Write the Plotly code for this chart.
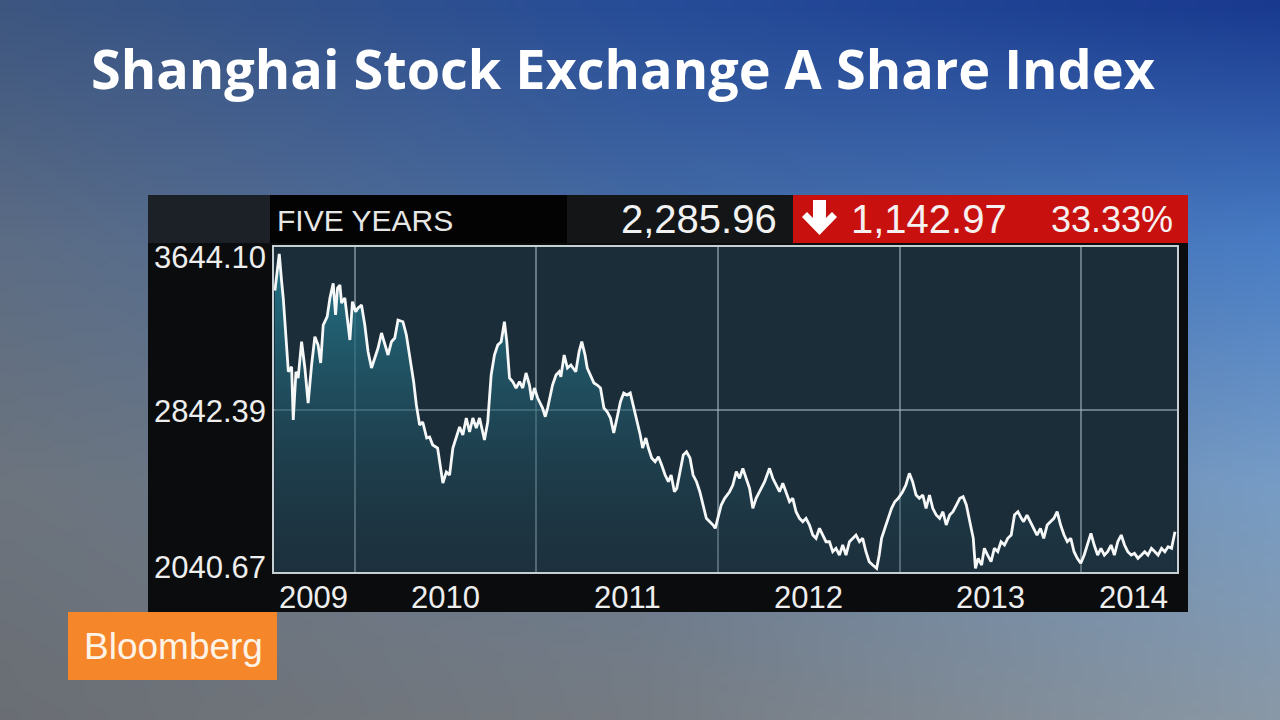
import base64
import struct
import zlib

import plotly.graph_objects as go

# ---------------- data ----------------
t_years = [
    2009.560, 2009.584, 2009.597, 2009.606, 2009.634, 2009.652, 2009.661, 2009.676, 2009.688, 2009.707,
    2009.725, 2009.743, 2009.762, 2009.780, 2009.798, 2009.812, 2009.826, 2009.848, 2009.863, 2009.881,
    2009.894, 2009.905, 2009.918, 2009.927, 2009.945, 2009.973, 2009.987,
    2010.005, 2010.018, 2010.037, 2010.055, 2010.073, 2010.092, 2010.110, 2010.128, 2010.147, 2010.165,
    2010.183, 2010.202, 2010.220, 2010.238, 2010.265, 2010.284, 2010.302, 2010.324, 2010.339, 2010.357,
    2010.374, 2010.396, 2010.412, 2010.429, 2010.456, 2010.476, 2010.485, 2010.504, 2010.522, 2010.540,
    2010.559, 2010.577, 2010.595, 2010.614, 2010.632, 2010.650, 2010.669, 2010.687, 2010.714, 2010.732,
    2010.751, 2010.769, 2010.787, 2010.806, 2010.824, 2010.837, 2010.852, 2010.870, 2010.888, 2010.907,
    2010.925, 2010.943, 2010.962, 2010.974, 2010.989,
    2011.007, 2011.034, 2011.049, 2011.062, 2011.089, 2011.108, 2011.126, 2011.135, 2011.153, 2011.171,
    2011.190, 2011.217, 2011.235, 2011.250, 2011.268, 2011.280, 2011.299, 2011.317, 2011.335, 2011.353,
    2011.372, 2011.390, 2011.408, 2011.426, 2011.444, 2011.463, 2011.481, 2011.499, 2011.517, 2011.536,
    2011.554, 2011.572, 2011.585, 2011.603, 2011.617, 2011.635, 2011.654, 2011.672, 2011.690, 2011.709,
    2011.727, 2011.742, 2011.760, 2011.773, 2011.791, 2011.809, 2011.827, 2011.846, 2011.863, 2011.882,
    2011.900, 2011.918, 2011.936, 2011.955, 2011.973, 2011.985,
    2012.004, 2012.018, 2012.037, 2012.064, 2012.082, 2012.101, 2012.119, 2012.137, 2012.155, 2012.174,
    2012.192, 2012.210, 2012.229, 2012.257, 2012.284, 2012.302, 2012.321, 2012.339, 2012.357, 2012.375,
    2012.394, 2012.412, 2012.430, 2012.449, 2012.467, 2012.485, 2012.504, 2012.522, 2012.540, 2012.559,
    2012.577, 2012.595, 2012.614, 2012.632, 2012.650, 2012.669, 2012.687, 2012.705, 2012.724, 2012.742,
    2012.760, 2012.779, 2012.797, 2012.815, 2012.833, 2012.852, 2012.874, 2012.888, 2012.901, 2012.919,
    2012.938, 2012.956, 2012.974, 2012.993,
    2013.017, 2013.035, 2013.054, 2013.072, 2013.091, 2013.109, 2013.128, 2013.146, 2013.165, 2013.183,
    2013.202, 2013.221, 2013.239, 2013.257, 2013.276, 2013.294, 2013.313, 2013.332, 2013.350, 2013.368,
    2013.387, 2013.406, 2013.418, 2013.433, 2013.452, 2013.467, 2013.485, 2013.504, 2013.522, 2013.541,
    2013.559, 2013.578, 2013.596, 2013.615, 2013.633, 2013.652, 2013.671, 2013.683, 2013.702, 2013.721,
    2013.739, 2013.757, 2013.776, 2013.794, 2013.813, 2013.832, 2013.850, 2013.868, 2013.887, 2013.906,
    2013.924, 2013.943, 2013.961, 2013.979, 2013.998,
    2014.017, 2014.035, 2014.054, 2014.072, 2014.091, 2014.109, 2014.128, 2014.146, 2014.165, 2014.183,
    2014.202, 2014.221, 2014.239, 2014.257, 2014.276, 2014.294, 2014.313, 2014.332, 2014.350, 2014.368,
    2014.387, 2014.406, 2014.424, 2014.443, 2014.461, 2014.479, 2014.498, 2014.517,
]

index_values = [
    3428.9, 3610.0, 3472.9, 3392.5, 3028.8, 3053.5, 2790.5, 3028.8, 2997.7, 3176.9,
    3047.1, 2874.4, 3061.9, 3201.5, 3160.6, 3071.8, 3259.2, 3300.2, 3392.5, 3465.0,
    3308.6, 3441.8, 3456.6, 3367.8, 3392.5, 3185.2, 3374.2,
    3324.9, 3343.1, 3357.9, 3259.2, 3127.5, 3047.1, 3096.4, 3145.8, 3219.8, 3160.6,
    3111.2, 3176.9, 3195.1, 3283.9, 3275.5, 3209.9, 3111.2, 2979.5, 2864.5, 2765.8,
    2780.6, 2701.7, 2706.6, 2667.2, 2652.4, 2519.1, 2479.7, 2533.9, 2519.1, 2652.4,
    2701.7, 2756.0, 2716.5, 2800.4, 2731.3, 2800.4, 2751.0, 2800.4, 2691.8, 2780.6,
    3012.5, 3111.2, 3160.6, 3176.9, 3275.5, 3176.9, 2997.7, 2979.5, 2948.4, 2979.5,
    2948.4, 3022.4, 2963.2, 2889.2, 2948.4,
    2899.1, 2849.7, 2806.8, 2849.7, 2963.2, 3012.5, 3028.8, 3004.2, 3111.2, 3047.1,
    3061.9, 3028.8, 3127.5, 3176.9, 3111.2, 3047.1, 3012.5, 2973.1, 2963.2, 2948.4,
    2849.7, 2831.5, 2800.4, 2726.4, 2800.4, 2880.8, 2923.7, 2913.9, 2923.7, 2849.7,
    2790.5, 2716.5, 2652.4, 2701.7, 2652.4, 2603.0, 2584.8, 2609.5, 2568.5, 2519.1,
    2486.1, 2519.1, 2436.8, 2453.5, 2535.4, 2617.8, 2634.1, 2603.0, 2519.1, 2486.1,
    2436.8, 2371.1, 2305.5, 2288.7, 2272.4, 2256.1,
    2330.0, 2371.1, 2404.2, 2436.8, 2469.8, 2535.4, 2502.9, 2552.2, 2502.9, 2453.5,
    2354.9, 2404.2, 2436.8, 2486.1, 2552.2, 2502.9, 2469.8, 2436.8, 2478.2, 2436.8,
    2387.4, 2404.2, 2338.1, 2305.5, 2288.7, 2305.5, 2272.4, 2223.1, 2206.8, 2256.2,
    2223.1, 2190.0, 2190.0, 2140.7, 2157.5, 2124.4, 2173.8, 2124.4, 2190.0, 2206.8,
    2223.1, 2190.0, 2206.8, 2140.7, 2091.4, 2075.1, 2058.8, 2124.4, 2206.8, 2256.2,
    2305.5, 2354.9, 2387.4, 2404.2,
    2436.8, 2469.8, 2527.5, 2486.1, 2420.5, 2404.2, 2420.5, 2354.9, 2420.5, 2354.9,
    2321.8, 2305.5, 2338.1, 2272.4, 2321.8, 2338.1, 2371.1, 2404.2, 2412.1, 2371.1,
    2288.7, 2206.8, 2058.8, 2108.1, 2075.1, 2157.5, 2124.4, 2091.4, 2157.5, 2140.7,
    2190.0, 2173.8, 2206.8, 2223.1, 2321.8, 2338.1, 2305.5, 2288.7, 2321.8, 2288.7,
    2256.2, 2223.1, 2256.2, 2206.8, 2272.4, 2288.7, 2305.5, 2338.1, 2272.4, 2223.1,
    2190.0, 2206.8, 2140.7, 2108.1, 2083.5,
    2124.4, 2173.8, 2231.5, 2173.8, 2124.4, 2157.5, 2124.4, 2140.7, 2173.8, 2124.4,
    2190.0, 2223.1, 2173.8, 2140.7, 2124.4, 2132.8, 2108.1, 2124.4, 2140.7, 2124.4,
    2157.5, 2140.7, 2124.4, 2157.5, 2140.7, 2165.4, 2157.5, 2239.4,
]

y_tick_values = [3644.10, 2842.39, 2040.67]
y_label_shift = [-10, -2, 5]
year_gridlines = [2010, 2011, 2012, 2013, 2014]
year_labels = ["2009", "2010", "2011", "2012", "2013", "2014"]
year_label_pos = [2009.775, 2010.5, 2011.5, 2012.5, 2013.5, 2014.29]
x_range = [2009.555, 2014.528]

title_text = "Shanghai Stock Exchange A Share Index"
period_text = "FIVE YEARS"
last_value = 2285.96
net_change = 1142.97
pct_change = 33.33

W, H = 1280, 720


def px(x):
    return x / W


def py(y):
    return 1 - y / H


# ---------------- background gradient image (decoration) ----------------
def make_png(width, height, rows):
    def chunk(tag, data):
        return (struct.pack(">I", len(data)) + tag + data
                + struct.pack(">I", zlib.crc32(tag + data) & 0xFFFFFFFF))
    raw = b"".join(b"\x00" + bytes(r) for r in rows)
    return (b"\x89PNG\r\n\x1a\n"
            + chunk(b"IHDR", struct.pack(">IIBBBBB", width, height, 8, 2, 0, 0, 0))
            + chunk(b"IDAT", zlib.compress(raw, 9))
            + chunk(b"IEND", b""))


grid_x = [0, 640, 1280]
grid_y = [0, 240, 480, 720]
grid_c = [
    [(60, 86, 128), (38, 76, 152), (24, 56, 142)],
    [(92, 108, 132), (72, 110, 165), (72, 124, 196)],
    [(108, 116, 126), (104, 124, 150), (118, 156, 198)],
    [(106, 110, 116), (118, 123, 130), (138, 152, 166)],
]


def seg(grid, v):
    for i in range(len(grid) - 1):
        if v <= grid[i + 1]:
            return i, (v - grid[i]) / (grid[i + 1] - grid[i])
    return len(grid) - 2, 1.0


IW, IH = 160, 90
rows = []
for j in range(IH):
    yy = (j + 0.5) / IH * H
    yi, fy = seg(grid_y, yy)
    row = bytearray()
    for i in range(IW):
        xx = (i + 0.5) / IW * W
        xi, fx = seg(grid_x, xx)
        c00 = grid_c[yi][xi]
        c01 = grid_c[yi][xi + 1]
        c10 = grid_c[yi + 1][xi]
        c11 = grid_c[yi + 1][xi + 1]
        for k in range(3):
            top = c00[k] * (1 - fx) + c01[k] * fx
            bot = c10[k] * (1 - fx) + c11[k] * fx
            row.append(int(round(top * (1 - fy) + bot * fy)))
    rows.append(row)
bg_uri = "data:image/png;base64," + base64.b64encode(make_png(IW, IH, rows)).decode()

# ---------------- figure ----------------
fig = go.Figure()
fig.add_trace(go.Scatter(
    x=t_years, y=index_values, mode="lines",
    line=dict(color="#f6f8f8", width=2.8),
    fill="tozeroy",
    fillgradient=dict(type="vertical",
                      colorscale=[[0, "rgba(30,58,70,0.25)"], [1, "rgba(36,122,144,0.97)"]],
                      start=y_tick_values[-1], stop=y_tick_values[0]),
    hoverinfo="skip",
))


def rect(x0, y0, x1, y1, color):
    return dict(type="rect", xref="paper", yref="paper",
                x0=px(x0), x1=px(x1), y0=py(y1), y1=py(y0),
                fillcolor=color, line=dict(width=0), layer="below")


shapes = [
    rect(148, 243, 1188, 612, "#0b0c0d"),
    rect(148, 195, 270, 243, "#1b2126"),
    rect(270, 195, 567, 243, "#030303"),
    rect(567, 195, 793, 243, "#131517"),
    rect(793, 195, 1188, 243, "#c8110f"),
    rect(68, 612, 277, 680, "#f5862a"),
    dict(type="rect", xref="x domain", yref="y domain", x0=0, x1=1, y0=0, y1=1,
         fillcolor="#1c2d3a", line=dict(width=0), layer="below"),
]
arrow_pts = [(813, 200), (826, 200), (826, 218), (832, 212), (837, 217), (819.5, 235),
             (802, 217), (807, 212), (813, 218)]
arrow_path = "M " + " L ".join(f"{px(a):.5f},{py(b):.5f}" for a, b in arrow_pts) + " Z"
shapes.append(dict(type="path", xref="paper", yref="paper", path=arrow_path,
                   fillcolor="#ffffff", line=dict(width=0), layer="above"))

panel_font = "Liberation Sans, Arial, sans-serif"
annotations = []
# title
annotations.append(dict(text=title_text, x=px(89), y=py(68), xref="paper", yref="paper",
                        xanchor="left", yanchor="middle", showarrow=False,
                        font=dict(family="Open Sans", size=54, weight=700, color="#ffffff")))
# header texts
annotations.append(dict(text=period_text, x=px(275), y=py(220), xref="paper", yref="paper",
                        xanchor="left", yanchor="middle", showarrow=False,
                        font=dict(family=panel_font, size=30, color="#e6e6e6")))
annotations.append(dict(text=f"{last_value:,.2f}", x=px(779), y=py(219), xref="paper", yref="paper",
                        xanchor="right", yanchor="middle", showarrow=False,
                        font=dict(family=panel_font, size=40, color="#f2f2f2")))
annotations.append(dict(text=f"{net_change:,.2f}", x=px(849), y=py(219), xref="paper", yref="paper",
                        xanchor="left", yanchor="middle", showarrow=False,
                        font=dict(family=panel_font, size=40, color="#f6f0f0")))
annotations.append(dict(text=f"{pct_change:.2f}%", x=px(1175), y=py(219), xref="paper", yref="paper",
                        xanchor="right", yanchor="middle", showarrow=False,
                        font=dict(family=panel_font, size=36, color="#f6f0f0")))
# y labels
for val, shift in zip(y_tick_values, y_label_shift):
    annotations.append(dict(text=f"{val:.2f}", x=px(268), y=val, xref="paper", yref="y",
                            xanchor="right", yanchor="middle", yshift=shift, showarrow=False,
                            font=dict(family=panel_font, size=31, color="#eeeeee")))
# x labels
for lab, pos in zip(year_labels, year_label_pos):
    annotations.append(dict(text=lab, x=pos, y=py(597), xref="x", yref="paper",
                            xanchor="center", yanchor="middle", showarrow=False,
                            font=dict(family=panel_font, size=31, color="#eeeeee")))
# Bloomberg logo text
annotations.append(dict(text="Bloomberg", x=px(173), y=py(646), xref="paper", yref="paper",
                        xanchor="center", yanchor="middle", showarrow=False,
                        font=dict(family=panel_font, size=37, color="#fdf3e6")))

fig.update_layout(
    width=W, height=H,
    margin=dict(l=0, r=0, t=0, b=0),
    paper_bgcolor="#5b708c",
    plot_bgcolor="rgba(0,0,0,0)",
    showlegend=False,
    images=[dict(source=bg_uri, xref="paper", yref="paper", x=0, y=1, sizex=1, sizey=1,
                 xanchor="left", yanchor="top", sizing="stretch", layer="below")],
    shapes=shapes,
    annotations=annotations,
    xaxis=dict(domain=[px(274), px(1177)], range=x_range, tickvals=year_gridlines,
               showticklabels=False, ticks="", showgrid=True, gridcolor="rgba(165,185,195,0.55)",
               gridwidth=1.5, zeroline=False, showline=True, mirror=True,
               linecolor="#c6cfd3", linewidth=2, fixedrange=True),
    yaxis=dict(domain=[py(572), py(247)], range=[y_tick_values[-1], y_tick_values[0]],
               tickvals=[y_tick_values[1]], showticklabels=False, ticks="", showgrid=True,
               gridcolor="rgba(165,185,195,0.55)", gridwidth=1.5, zeroline=False,
               showline=True, mirror=True, linecolor="#c6cfd3", linewidth=2, fixedrange=True),
)

fig.write_html("out.html", config={"displayModeBar": False},
               post_script="document.body.style.margin='0';document.body.style.overflow='hidden';")
